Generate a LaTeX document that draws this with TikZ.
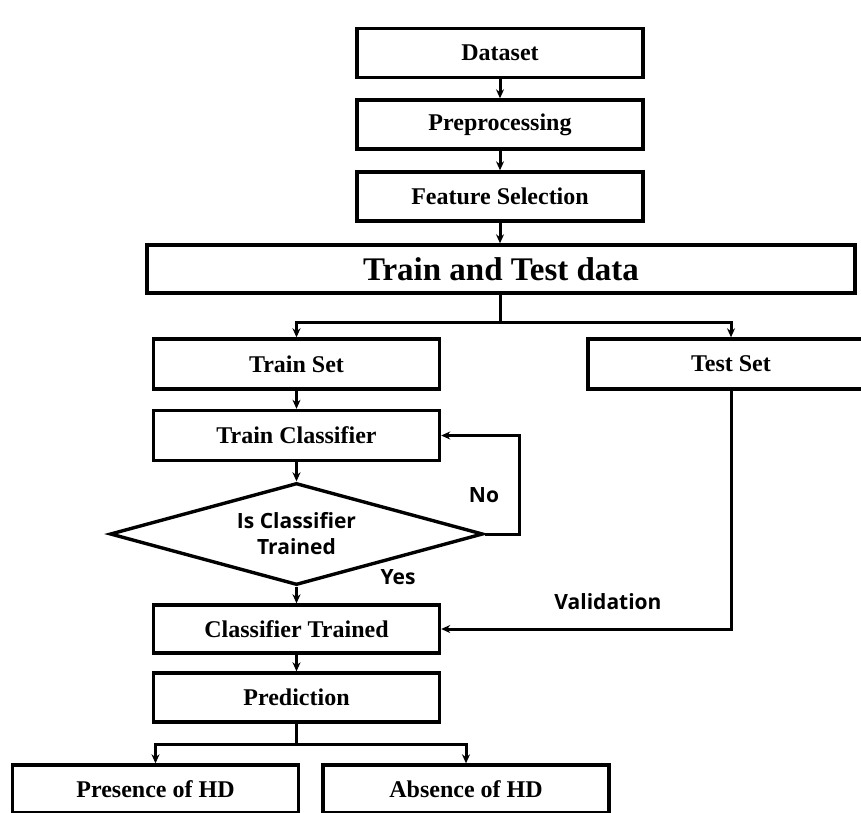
\documentclass[tikz,border=0pt]{standalone}
\usepackage{fontspec}
\setmainfont{Liberation Serif}
\newfontfamily\labfont{Open Sans}
\usetikzlibrary{shapes.geometric,arrows.meta}
\begin{document}
\begin{tikzpicture}[x=1pt,y=-1pt,
 box/.style={draw,line width=3.4pt,minimum width=286pt,minimum height=49pt,inner sep=0pt,font=\bfseries\fontsize{24}{26}\selectfont},
 arr/.style={line width=3pt,-{Stealth[length=9pt,width=8pt]}},
 ln/.style={line width=3pt},
 lab/.style={font=\labfont\bfseries\fontsize{21}{26}\selectfont,align=center}]
\clip (0,0) rectangle (861,812);
\fill[white] (0,0) rectangle (861,812);
\node[box] (ds) at (500,53) {Dataset};
\node[box] (pre) at (500,124.5) {Preprocessing};
\node[box] (fs) at (500,196.5) {Feature Selection};
\node[box,minimum width=708pt,minimum height=48pt,font=\bfseries\fontsize{33}{36}\selectfont] (tt) at (501,269) {Train and Test data};
\node[box,minimum height=50pt] (trs) at (296.5,364) {Train Set};
\node[box,minimum height=50pt] (tes) at (731,364) {Test Set};
\node[box,minimum height=50pt] (tc) at (296.5,435.5) {Train Classifier};
\node[draw,shape=diamond,aspect=3.66,minimum width=373pt,minimum height=102pt,inner sep=0pt,line width=3.4pt,lab] (dm) at (296.5,534) {Is Classifier\\Trained};
\node[box,minimum height=48pt] (ct) at (296.5,629) {Classifier Trained};
\node[box] (pr) at (296.5,697.5) {Prediction};
\node[box,minimum height=48pt] (pres) at (155.5,789) {Presence of HD};
\node[box,minimum height=48pt] (abs) at (466,789) {Absence of HD};
\node[lab] (no) at (484,495) {No};
\node[lab] (yes) at (398,577) {Yes};
\node[lab] (val) at (608,602) {Validation};
\coordinate (b1) at (500,322);
\coordinate (b2) at (296.5,744);
\coordinate (lp) at (519,534);
\draw[arr] (ds) -- (pre);
\draw[arr] (pre) -- (fs);
\draw[arr] (fs) -- (tt.north -| fs);
\draw[ln] (tt.south -| b1) -- (b1);
\draw[arr] (b1) -| (trs.north);
\draw[arr] (b1) -| (tes.north);
\draw[arr] (trs) -- (tc);
\draw[arr] (tc) -- (dm.north);
\draw[arr] (dm.east) -- (lp) |- (tc.east);
\draw[arr] (dm.south) -- (ct);
\draw[arr] (tes.south) |- (ct.east);
\draw[arr] (ct) -- (pr);
\draw[ln] (pr.south) -- (b2);
\draw[arr] (b2) -| (pres.north);
\draw[arr] (b2) -| (abs.north);
\end{tikzpicture}
\end{document}
